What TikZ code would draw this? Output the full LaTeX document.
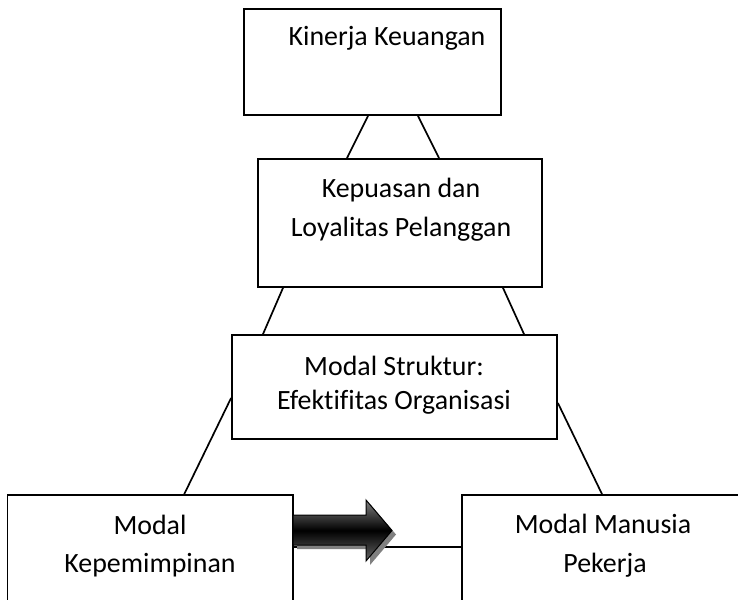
\documentclass[tikz,border=0pt]{standalone}
\usepackage{fontspec}
\setmainfont[Ligatures=NoCommon]{Carlito}
\begin{document}
\begin{tikzpicture}[x=1pt,y=-1pt,
  box/.style={draw=black, line width=1.8pt, rectangle, inner sep=0pt, fill=white},
  txt/.style={font=\fontsize{27.9}{34}\selectfont, inner sep=0pt, anchor=base, text=black},
  link/.style={draw=black, line width=1.7pt}]
\useasboundingbox (0,0) rectangle (738,599);
\clip (0,0) rectangle (738,599);
% boxes
\node[box, minimum width=257pt, minimum height=106pt] (b1) at (372.5,62) {};
\node[box, minimum width=284pt, minimum height=128pt] (b2) at (400,223) {};
\node[box, minimum width=325pt, minimum height=104pt] (b3) at (394.5,387) {};
\node[box, minimum width=285.5pt, minimum height=160pt] (b4) at (150.25,575) {};
\node[box, minimum width=340pt, minimum height=160pt] (b5) at (632,575) {};
% texts
\node[txt] (t1) at (387,46) {Kinerja Keuangan};
\node[txt] (t2a) at (401,197) {Kepuasan dan};
\node[txt] (t2b) at (401,236) {Loyalitas Pelanggan};
\node[txt] (t3a) at (394,375) {Modal Struktur:};
\node[txt] (t3b) at (394,409) {Efektifitas Organisasi};
\node[txt] (t4a) at (150,534) {Modal};
\node[txt] (t4b) at (150,572) {Kepemimpinan};
\node[txt] (t5a) at (603,533) {Modal Manusia};
\node[txt] (t5b) at (605,572) {Pekerja};
% connectors
\draw[link] ([xshift=-4.5pt]b1.south) -- ([xshift=-53pt]b2.north);
\draw[link] ([xshift=45.5pt]b1.south) -- ([xshift=39pt]b2.north);
\draw[link] ([xshift=-117pt]b2.south) -- ([xshift=-131.5pt]b3.north);
\draw[link] ([xshift=103pt]b2.south) -- ([xshift=129.5pt]b3.north);
\draw[link] ([yshift=-11pt]b3.west) -- ([xshift=34pt]b4.north);
\draw[link] ([yshift=-16pt]b3.east) -- ([xshift=-30pt]b5.north);
\draw[link] ([yshift=28pt]b4.east) -- ([yshift=28pt]b5.west);
% block arrow with shadow
\fill[black!50, shift={(4,4)}] (293,515) -- (366,515) -- (366,500) -- (392,530.5) -- (366,561) -- (366,545) -- (293,545) -- cycle;
\draw[black, line width=1pt, top color=black!50, bottom color=black!60, middle color=black]
  (293,515) -- (366,515) -- (366,500) -- (392,530.5) -- (366,561) -- (366,545) -- (293,545) -- cycle;
\end{tikzpicture}
\end{document}
